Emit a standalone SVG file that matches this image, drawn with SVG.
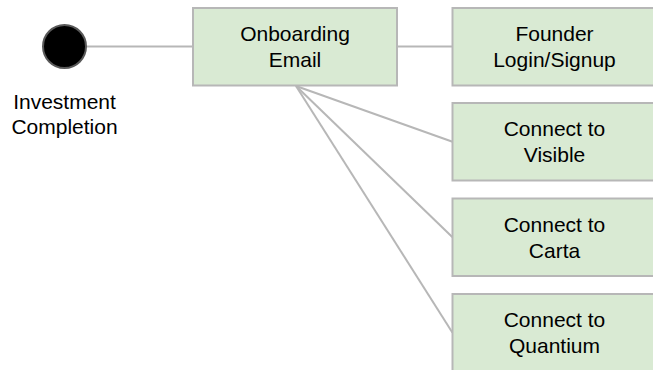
<svg xmlns="http://www.w3.org/2000/svg" width="653" height="370" viewBox="0 0 653 370">
<style>
.box{fill:#d9ead3;stroke:#b7b7b7;stroke-width:2}
.lbl{font-family:"Liberation Sans",Arial,sans-serif;font-size:21px;fill:#000;text-anchor:middle}
.conn{stroke:#b7b7b7;stroke-width:2;fill:none}
</style>
<rect width="653" height="370" fill="#fff"/>
<g id="connectors">
<line class="conn" x1="86" y1="46.5" x2="193" y2="46.5"/>
<line class="conn" x1="397" y1="46.5" x2="452.5" y2="46.5"/>
<line class="conn" x1="296" y1="86" x2="452.5" y2="141.7"/>
<line class="conn" x1="296" y1="86" x2="452.5" y2="237.2"/>
<line class="conn" x1="296" y1="86" x2="452.5" y2="332.7"/>
</g>
<g id="start">
<circle cx="64.5" cy="46.5" r="21.5" fill="#000" stroke="#595959" stroke-width="2"/>
<text class="lbl" x="64.5" y="108.5">Investment</text>
<text class="lbl" x="64.5" y="133.5">Completion</text>
</g>
<g id="onboarding">
<rect class="box" x="193" y="8" width="204" height="77.5"/>
<text class="lbl" x="295" y="41">Onboarding</text>
<text class="lbl" x="295" y="67.3">Email</text>
</g>
<g id="founder">
<rect class="box" x="452.5" y="8" width="204" height="77.5"/>
<text class="lbl" x="554.5" y="41">Founder</text>
<text class="lbl" x="554.5" y="67.3">Login/Signup</text>
</g>
<g id="visible">
<rect class="box" x="452.5" y="103" width="204" height="77.5"/>
<text class="lbl" x="554.5" y="136">Connect to</text>
<text class="lbl" x="554.5" y="162.3">Visible</text>
</g>
<g id="carta">
<rect class="box" x="452.5" y="198.5" width="204" height="77.5"/>
<text class="lbl" x="554.5" y="231.5">Connect to</text>
<text class="lbl" x="554.5" y="257.8">Carta</text>
</g>
<g id="quantium">
<rect class="box" x="452.5" y="294" width="204" height="77.5"/>
<text class="lbl" x="554.5" y="327">Connect to</text>
<text class="lbl" x="554.5" y="353.3">Quantium</text>
</g>
</svg>
